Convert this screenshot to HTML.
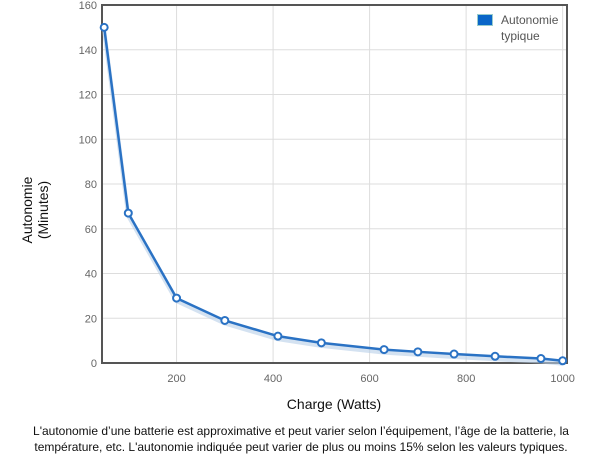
<!DOCTYPE html>
<html><head><meta charset="utf-8"><style>
body{margin:0;background:#fff;font-family:"Liberation Sans",sans-serif;}
</style></head><body>
<svg width="600" height="456" viewBox="0 0 600 456" style="display:block">
<g id="grid"></g>
<g id="yt"></g>
<g id="xt"></g>
<rect x="102" y="5" width="465" height="358" fill="none" stroke="#555" stroke-width="2"/>
<g id="series"></g>
<g>
<rect x="477.5" y="14.5" width="15" height="11" fill="#0a66c8" stroke="#9cc" stroke-width="1"/>
<text x="501" y="24" font-size="12" fill="#555">Autonomie</text>
<text x="501" y="40" font-size="12" fill="#555">typique</text>
</g>
<text transform="translate(32,210) rotate(-90)" text-anchor="middle" font-size="14" fill="#111"><tspan x="0" y="0">Autonomie</tspan><tspan x="0" y="16">(Minutes)</tspan></text>
<text x="334" y="409" text-anchor="middle" font-size="14" fill="#111">Charge (Watts)</text>
<text x="301" y="435" text-anchor="middle" font-size="12" fill="#111">L'autonomie d’une batterie est approximative et peut varier selon l’équipement, l’âge de la batterie, la</text>
<text x="301" y="451" text-anchor="middle" font-size="12" fill="#111">température, etc. L'autonomie indiquée peut varier de plus ou moins 15% selon les valeurs typiques.</text>
</svg>
<script>
const xValues=[50,100,200,300,410,500,630,700,775,860,955,1000];
const yValues=[150,67,29,19,12,9,6,5,4,3,2,1];
const xTicks=[200,400,600,800,1000];
const yTicks=[0,20,40,60,80,100,120,140,160];
const NS="http://www.w3.org/2000/svg";
const X0=102,X1=567,Y0=363,Y1=5,XMIN=45.5,XMAX=1009,YMIN=0,YMAX=160;
function sx(v){return X0+(v-XMIN)/(XMAX-XMIN)*(X1-X0);}
function sy(v){return Y0-(v-YMIN)/(YMAX-YMIN)*(Y0-Y1);}
function mk(t,a,p){const e=document.createElementNS(NS,t);for(const k in a)e.setAttribute(k,a[k]);p.appendChild(e);return e;}
const grid=document.getElementById('grid'),yt=document.getElementById('yt'),xt=document.getElementById('xt'),ser=document.getElementById('series');
yTicks.forEach(v=>{
 const l=mk('line',{x1:X0,x2:X1,y1:sy(v),y2:sy(v),stroke:'#ddd','stroke-width':1},grid);
 
 
 const t=mk('text',{x:97,y:sy(v)+4,'text-anchor':'end','font-size':11,fill:'#666'},yt);
 t.textContent=v;
 
 
});
xTicks.forEach(v=>{
 const l=mk('line',{x1:sx(v),x2:sx(v),y1:Y1,y2:Y0,stroke:'#ddd','stroke-width':1},grid);
 
 
 const t=mk('text',{x:sx(v),y:382,'text-anchor':'middle','font-size':11,fill:'#666'},xt);
 t.textContent=v;
 
 
});
const pts=xValues.map((x,i)=>sx(x)+','+sy(yValues[i])).join(' ');
const sh=mk('polyline',{points:xValues.map((x,i)=>sx(x)+','+(sy(yValues[i])+3)).join(' '),fill:'none',stroke:'#b8cfe8','stroke-width':4,opacity:0.6},ser);


const pl=mk('polyline',{points:pts,fill:'none',stroke:'#2a72c4','stroke-width':2.5},ser);


xValues.forEach((x,i)=>{
 const c=mk('circle',{cx:sx(x),cy:sy(yValues[i]),r:3.5,fill:'#fff',stroke:'#2a72c4','stroke-width':2},ser);
 
 
});
</script>
</body></html>
